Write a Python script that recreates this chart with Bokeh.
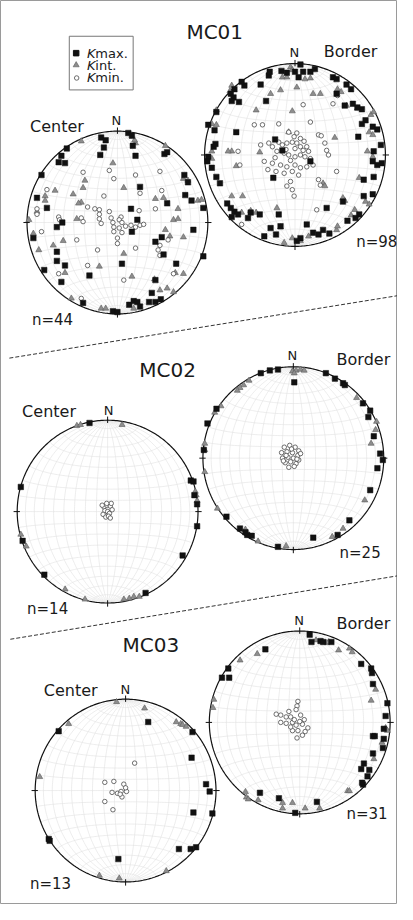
import numpy as np
from bokeh.plotting import figure
from bokeh.models import Range1d
from bokeh.embed import file_html
from bokeh.resources import INLINE
from bokeh.core.properties import value

# ---------------- DATA (equal-area net coordinates, primitive radius = 1; east, north) -------------
MC01C_KMAX = [(-.18,.93),(-.13,.90),(.12,.98),(.16,.95),(-.15,.82),(.17,.84),(-.19,.74),(.20,.73),(-.56,.81),
              (-.62,.73),(-.65,.66),(-.58,.65),(-.84,.52),(.52,.75),(.55,.77),(.25,.39),(.55,.21),(-.89,.27),
              (-.78,.16),(.15,.15),(.22,.03),(-.61,0),(-.67,-.05),(.16,-.10),(.49,-.16),(.84,-.08),(.95,.16),
              (.42,-.21),(.51,-.35),(-.67,-.32),(-.67,-.42),(-.58,-.47),(-.81,-.52),(-.31,-.58),(-.62,-.65),
              (.05,-.45),(.65,-.45),(.95,-.37),(.42,-.63),(.38,-.77),(-.38,-.88),(-.05,-.97),(0,-.98),(.13,-.90),
              (.18,-.86),(.22,-.87),(.25,-.92),(.35,-.87),(.42,-.87),(.48,-.84),(.75,.30),(.82,.24),(.78,.44),
              (.74,.52),(-.93,-.17)]
MC01C_KINT = [(-.40,.89),(.20,.87),(.19,.90),(-.05,.65),(-.36,.46),(-.38,.38),(-.69,.35),(-.80,.29),(-.80,.24),
              (-.49,.31),(-.40,.22),(-.43,.21),(.07,.38),(.42,.26),(.51,.27),(.67,.15),(.62,.03),(.67,.04),
              (.73,.48),(.78,.46),(.89,.24),(.93,.25),(-.89,.12),(-.45,.04),(-.93,-.12),(-.60,-.20),(-.71,-.25),
              (-.87,-.30),(.53,-.08),(.58,-.15),(.73,-.16),(.07,-.34),(-.20,-.48),(-.58,-.55),(.16,-.59),
              (.41,-.62),(.64,-.55),(.73,-.56),(.47,-.74),(.55,-.72),(.62,-.76),(-.51,-.83),(-.18,-.94),
              (-.13,-.94),(.18,-.94),(.53,.84),(-.98,.03)]
MC01C_KMIN = [(-.09,.57),(-.04,.48),(-.38,.55),(.20,.52),(.47,.56),(-.78,.36),(-.15,.29),(.25,.32),(.49,.35),
              (.42,.15),(.24,.13),(-.89,.15),(-.89,.09),(-.33,.17),(-.25,.15),(-.20,.14),(-.09,.12),(-.20,.09),
              (-.65,.06),(-.64,.03),(-.40,.05),(-.38,.01),(-.20,.04),(-.18,-.01),(-.07,.05),(-.05,0),(.04,.06),
              (.02,.03),(.05,0),(-.04,-.05),(.02,-.06),(-.04,-.10),(.09,-.04),(.15,-.03),(.20,-.05),(.25,-.03),
              (.29,-.02),(.05,-.11),(0,-.17),(0,-.23),(.20,-.28),(-.45,-.19),(-.84,-.10),(-.22,-.30),(.47,-.25),
              (.45,-.30),(.47,-.36),(.56,-.19),(-.33,-.47),(-.65,-.56),(.07,-.63),(.62,-.56),(-.40,-.83)]

MC01B_KMAX = [(.06,.99),(0,.91),(.04,.85),(.09,.91),(.17,.91),(.22,.94),(-.09,.90),(-.15,.92),(-.29,.87),
              (-.28,.91),(-.38,.77),(-.56,.76),(-.59,.80),(-.67,.72),(-.71,.67),(-.68,.63),(-.62,.58),(-.70,.59),
              (-.32,.59),(.42,.85),(.46,.83),(.57,.77),(.62,.72),(.46,.67),(.55,.54),(.64,.56),(.69,.52),(.74,.50),
              (.78,.38),(.74,.34),(.86,.31),(.91,.28),(.70,.20),(.95,.11),(.87,.04),(.86,-.07),(.91,-.11),
              (.96,-.09),(.76,-.27),(.87,-.24),(.86,-.43),(.76,-.45),(.53,-.51),(.71,-.65),(.67,-.69),(.58,-.72),
              (.35,-.58),(.13,-.76),(.31,-.82),(.38,-.86),(.20,-.85),(.26,-.87),(.06,-.91),(.02,-.94),(-.21,-.87),
              (-.16,-.78),(-.34,-.89),(-.18,-.65),(-.27,-.80),(-.39,-.65),(-.49,-.63),(-.52,-.69),(-.67,-.62),
              (-.63,-.65),(-.70,-.68),(-.75,-.53),(-.71,-.58),(-.83,-.31),(-.87,-.24),(-.92,-.14),(-.96,-.02),
              (-.97,-.07),(-.90,.09),(-.88,.12),(-.89,.27),(-.96,.33),(-.65,.25),(-.87,.47),(-.22,.17),(-.14,.05),
              (.17,-.07),(-.24,-.25)]
MC01B_KINT = [(-.05,.96),(-.03,.93),(-.14,.85),(-.09,.85),(.11,.83),(.17,.84),(.02,.74),(-.16,.71),(-.27,.67),
              (.20,.67),(.28,.67),(.47,.72),(.51,.69),(-.43,.49),(-.03,.48),(.57,.54),(.69,.51),(.84,.44),
              (.87,.47),(.82,.25),(.86,.22),(.44,.19),(-.07,.25),(.80,.04),(.86,-.02),(.71,-.25),(.53,-.47),
              (.55,-.50),(.31,-.31),(.33,-.34),(-.39,.03),(-.70,.04),(-.74,.04),(-.65,-.12),(-.92,.04),(-.92,-.04),
              (-.92,.34),(-.87,.33),(-.87,.49),(-.70,.76),(-.72,.70),(-.70,-.45),(-.58,-.45),(-.43,-.63),
              (-.49,-.61),(-.59,-.63),(-.16,-.79),(-.03,-.91),(-.12,-.96),(.06,-.94),(.15,-.89),(.46,-.82),
              (.47,-.78),(.66,-.60),(.78,-.51),(.82,-.54),(-.20,-.58),(.62,-.66)]
MC01B_KMIN = [(-.45,.33),(-.36,.33),(-.18,.34),(.17,.36),(.09,.55),(.42,.56),(.47,.65),(-.07,.25),(.26,.22),
              (.29,.21),(.33,.13),(-.38,.11),(-.29,.13),(-.25,.09),(-.18,.14),(-.14,.11),(-.09,.13),(-.03,.14),
              (.02,.13),(.06,.09),(.09,.05),(.13,.09),(-.20,.04),(-.12,.02),(-.07,0),(0,-.02),(.06,0),(.11,-.02),
              (.17,-.04),(-.34,-.07),(-.25,-.09),(-.16,-.11),(-.09,-.13),(0,-.11),(.06,-.14),(.13,-.13),(.20,-.11),
              (-.30,-.16),(-.21,-.18),(-.12,-.20),(-.03,-.18),(.04,-.22),(-.05,-.29),(-.09,-.34),(-.03,-.38),
              (-.01,-.45),(.26,-.27),(.28,-.33),(.46,-.18),(.37,0),(.35,.05),(.02,.24),(-.01,.20),(.06,.18),
              (.24,-.60),(-.59,-.76),(-.61,-.11),(-.63,.04),(-.10,.06),(0,.07),(.10,.15),(-.05,-.06),(.15,.04),
              (-.22,-.03)]

MC02C_KMAX = [(-.20,.97),(-.96,.27),(.92,.34),(.95,.33),(.99,.08),(.99,-.16),(.83,-.48),(-.94,-.32),(-.70,-.69),
              (.42,-.89),(.96,.18)]
MC02C_KINT = [(-.34,.94),(.16,.95),(.97,.22),(.98,.18),(.99,.12),(-.96,-.25),(-.90,-.38),(-.47,-.85),(-.25,-.96),
              (.18,-.96),(.24,-.95),(.29,-.93),(.35,-.93),(-.30,.95)]
MC02C_KMIN = [(-.04,.05),(-.01,.07),(.03,.06),(.05,.02),(-.03,.01),(0,0),(.02,-.02),(-.05,-.03),(-.02,-.06),
              (.01,-.05),(.04,.09),(-.01,.09),(-.06,.07),(.03,-.07)]

MC02B_KMAX = [(-.17,.97),(-.26,.96),(-.36,.93),(.01,.83),(.36,.93),(.46,.87),(.55,.82),(.57,.80),(.77,.60),
              (.85,.52),(.83,.45),(.89,.24),(.96,.05),(.99,-.02),(.93,-.11),(.85,-.35),(.62,-.68),(.49,-.84),
              (.22,-.87),(-.17,-.97),(-.46,-.85),(-.51,-.84),(-.53,-.81),(-.59,-.77),(-.74,-.64),(-.99,.09),
              (-.95,.38),(-.85,.54)]
MC02B_KINT = [(-.01,.95),(.03,.96),(.08,.97),(.12,.96),(.01,.93),(-.49,.85),(-.55,.80),(-.59,.77),(-.62,.74),
              (-.80,.57),(-.87,.50),(-.98,.16),(-.98,.09),(-.98,-.15),(-.84,-.55),(-.53,-.78),(-.39,-.91),
              (-.08,-.96),(.43,-.86),(.55,-.77),(.79,-.46),(.91,.31),(.86,.16),(.70,.66),(.92,.40)]
MC02B_KMIN = [(-.10,.12),(-.04,.14),(.02,.12),(.06,.08),(-.13,.06),(-.07,.07),(-.01,.06),(.05,.03),(-.12,0),
              (-.06,.01),(0,0),(.06,-.02),(-.09,-.05),(-.03,-.04),(.03,-.06),(-.05,-.10),(.01,-.09),(-.08,.03),
              (.08,.05),(-.02,.10),(.04,-.01),(-.11,-.03)]

MC03C_KMAX = [(.25,.75),(-.74,.65),(.74,.64),(.73,.36),(.89,.07),(.93,-.01),(.75,-.24),(.96,-.25),(-.84,-.55),
              (-.85,-.53),(.59,-.64),(.72,-.64),(.78,-.62),(-.08,-.75)]
MC03C_KINT = [(-.10,.97),(.21,.90),(-.63,.73),(.56,.75),(.61,.73),(.63,.72),(.67,.70),(-.95,.15),(-.29,-.93),
              (-.07,-.96),(.45,-.88)]
MC03C_KMIN = [(.10,.30),(-.23,.09),(-.13,.10),(-.02,.07),(-.15,-.02),(-.09,-.03),(-.05,-.01),(.01,-.01),
              (-.04,-.07),(-.23,-.12),(-.14,-.21),(-.06,-.04),(0,.03)]

MC03B_KMAX = [(.11,.96),(.13,.88),(.23,.89),(.26,.88),(.35,.88),(-.38,.80),(-.79,.59),(-.86,.49),(-.78,.49),
              (.68,.64),(.79,.59),(.80,.54),(.81,.42),(.97,.21),(.95,.07),(.93,-.07),(.81,-.15),(.93,-.18),
              (.92,-.28),(.81,-.34),(.71,-.45),(.68,-.51),(.77,-.52),(.75,-.59),(.70,-.68),(.69,-.66),
              (-.44,-.77),(-.23,-.83),(.19,-.87),(-.05,-.99),(.83,-.15)]
MC03B_KINT = [(.30,.87),(.32,.88),(.43,.79),(.55,.81),(.58,.77),(-.47,.75),(-.66,.68),(.84,.36),(.79,.24),
              (-.95,.25),(-.96,.16),(.95,-.06),(.97,-.09),(.91,-.22),(.82,-.40),(.53,-.75),(.55,-.75),
              (-.60,-.76),(-.59,-.82),(-.57,-.84),(-.46,-.85),(-.19,-.88),(-.19,-.94),(-.08,-.88),(.06,-.94),
              (.22,-.94),(.18,.90)]
MC03B_KMIN = [(-.02,.23),(-.03,.18),(-.04,.14),(-.26,.09),(-.21,.08),(-.15,.06),(-.10,.06),(.01,.08),(.05,.03),
              (-.21,0),(-.15,-.01),(-.08,0),(-.04,-.03),(.03,-.02),(.09,-.06),(-.08,-.09),(-.02,-.09),(.03,-.14),
              (-.03,-.17),(-.12,.12),(0,.01),(-.10,-.05),(.06,-.10),(-.06,.03)]

SITES = ["MC01", "MC02", "MC03"]
N_LABELS = ["n=44", "n=98", "n=14", "n=25", "n=13", "n=31"]
LEGEND = ["max.", "int.", "min."]

# ---------------- LAYOUT (page pixels of the original figure) ----------------
W, H = 397, 904
X0, X1, Y0, Y1 = 8, 412, 8, 918
R = 92.0
NETS = [  # center x, center y, data
    (127.0, 231.5, MC01C_KMAX, MC01C_KINT, MC01C_KMIN),
    (307.7, 163.5, MC01B_KMAX, MC01B_KINT, MC01B_KMIN),
    (117.0, 522.5, MC02C_KMAX, MC02C_KINT, MC02C_KMIN),
    (306.0, 468.7, MC02B_KMAX, MC02B_KINT, MC02B_KMIN),
    (135.3, 803.3, MC03C_KMAX, MC03C_KINT, MC03C_KMIN),
    (312.5, 734.7, MC03B_KMAX, MC03B_KINT, MC03B_KMIN),
]
FONT = value("DejaVu Sans")

p = figure(width=W, height=H, x_range=Range1d(X0, X1), y_range=Range1d(Y1, Y0),
           output_backend="svg", toolbar_location=None, min_border=0,
           x_axis_location=None, y_axis_location=None)
p.grid.visible = False
p.outline_line_color = "#9a9a9a"
p.outline_line_width = 1
p.background_fill_color = "white"

ex, ey = {}, {}
for i, (cx, cy, *_r) in enumerate(NETS):
    ex[f"x{i}"] = Range1d((X0 - cx) / R, (X1 - cx) / R)
    ey[f"y{i}"] = Range1d((cy - Y1) / R, (cy - Y0) / R)
p.extra_x_ranges = ex
p.extra_y_ranges = ey


def net_grid():
    xs, ys = [], []
    t = np.linspace(0, np.pi, 121)
    for d in range(10, 90, 10):
        dr = np.radians(d)
        for s in (1, -1):
            vx = s * np.sin(t) * np.cos(dr)
            vy = np.cos(t)
            vz = np.sin(t) * np.sin(dr)
            f = 1 / np.sqrt(1 + vz)
            xs.append(vx * f); ys.append(vy * f)
    xs.append(np.array([0.0, 0.0])); ys.append(np.array([-1.0, 1.0]))
    for a in range(10, 180, 10):
        ar = np.radians(a)
        vx = np.sin(ar) * np.cos(t)
        vy = np.full_like(t, np.cos(ar))
        vz = np.sin(ar) * np.sin(t)
        f = 1 / np.sqrt(1 + vz)
        xs.append(vx * f); ys.append(vy * f)
    return xs, ys


gx, gy = net_grid()
th = np.linspace(0, 2 * np.pi, 361)
tick_x = [[0, 0], [0, 0], [0.97, 1.04], [-0.97, -1.04]]
tick_y = [[0.97, 1.04], [-0.97, -1.04], [0, 0], [0, 0]]

for i, (cx, cy, kmax, kint, kmin) in enumerate(NETS):
    rn = dict(x_range_name=f"x{i}", y_range_name=f"y{i}")
    p.multi_line(gx, gy, line_color="#e0e0e0", line_width=0.6, **rn)
    p.line(np.cos(th), np.sin(th), line_color="#111111", line_width=1.2, **rn)
    p.multi_line(tick_x, tick_y, line_color="#111111", line_width=1, **rn)
    a = np.array(kint, dtype=float)
    p.scatter(a[:, 0], a[:, 1], marker="triangle", size=6, fill_color="#8e8e8e",
              line_color="#5a5a5a", line_width=0.6, **rn)
    a = np.array(kmin, dtype=float)
    p.scatter(a[:, 0], a[:, 1], marker="circle", size=4.5, fill_color="white",
              line_color="#4a4a4a", line_width=0.8, **rn)
    a = np.array(kmax, dtype=float)
    p.scatter(a[:, 0], a[:, 1], marker="square", size=5.5, fill_color="#111111",
              line_color="#111111", line_width=0.5, **rn)

# separators
p.line([17, 413], [368, 305], line_color="#333333", line_width=1, line_dash="4 2")
p.line([18, 413], [651, 587], line_color="#333333", line_width=1, line_dash="4 2")

txt = dict(text_font=FONT, text_color="#1a1a1a", text_baseline="middle")
p.text([226, 178, 161], [40, 380, 657], text=SITES, text_font_size="20px", text_align="center", **txt)
p.text([38, 30, 52], [135, 422, 703], text=["Center"] * 3, text_font_size="16px", text_align="left", **txt)
p.text([337, 350, 350], [59, 369, 635], text=["Border"] * 3, text_font_size="16px", text_align="left", **txt)
p.text([126, 307, 118, 305, 135, 312], [129, 60, 421, 365, 702, 632], text=["N"] * 6,
       text_font_size="13px", text_align="center", **txt)
p.text([40, 370, 35, 353, 38, 360], [330, 251, 621, 564, 897, 827], text=N_LABELS,
       text_font_size="15px", text_align="left", **txt)

# legend
p.quad(left=[78], right=[143], top=[44], bottom=[98], fill_color="white", line_color="#777777", line_width=1)
p.scatter([85], [61], marker="square", size=5.5, fill_color="#111111", line_color="#111111")
p.scatter([85], [73], marker="triangle", size=6, fill_color="#8e8e8e", line_color="#5a5a5a", line_width=0.6)
p.scatter([85.5], [86], marker="circle", size=4.5, fill_color="white", line_color="#4a4a4a", line_width=0.8)
p.text([96, 96, 96], [61, 73, 86], text=["K"] * 3, text_font_size="13px", text_font_style="italic",
       text_align="left", **txt)
p.text([104.5, 104.5, 104.5], [61, 73, 86], text=LEGEND, text_font_size="13px", text_align="left", **txt)

open("out.html", "w").write(file_html(p, INLINE))
